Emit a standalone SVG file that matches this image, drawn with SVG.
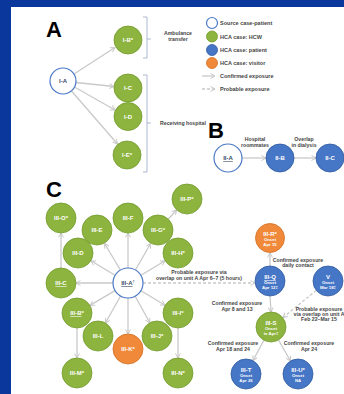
<svg xmlns="http://www.w3.org/2000/svg" width="344" height="394" viewBox="0 0 344 394">
<style>
.g{fill:#8db43e;stroke:#729b2e;stroke-width:0.8}
.b{fill:#4676c6;stroke:#2f5a9e;stroke-width:0.8}
.o{fill:#f08a3a;stroke:#d26f22;stroke-width:0.8}
.w{fill:#fff;stroke:#4a78c6;stroke-width:1.2}
.t{font-family:"Liberation Sans",Arial,sans-serif;font-weight:bold;text-anchor:middle}
.nl{font-size:6px;fill:#fff}
.nd{font-size:6px;fill:#3a4a6a}
.on{font-size:4.3px;fill:#fff}
.sm{font-size:5.2px;fill:#444}
.lg{font-family:"Liberation Sans",Arial,sans-serif;font-weight:bold;font-size:5.5px;fill:#444}
.big{font-family:"Liberation Sans",Arial,sans-serif;font-weight:bold;font-size:22px;fill:#000}
.ar{stroke:#c9c9c9;stroke-width:1.3;fill:none;marker-end:url(#ah)}
.da{stroke-dasharray:3 2}
.br{stroke:#9aa6c8;stroke-width:0.8;fill:none}
</style>
<defs>
<marker id="ah" markerUnits="userSpaceOnUse" markerWidth="7" markerHeight="7" refX="5" refY="3" orient="auto">
<path d="M0.5,0.5 L5,3 L0.5,5.5" fill="none" stroke="#c9c9c9" stroke-width="1"/>
</marker>
</defs>
<rect width="344" height="394" fill="#0a379b"/>
<rect x="11" y="7" width="333" height="387" fill="#fff"/>

<g id="labels">
<text class="big" x="46" y="37">A</text>
<text class="big" x="208" y="138">B</text>
<text class="big" x="46" y="197">C</text>
</g>

<g id="brackets">
<path class="br" d="M143,17 H147 V58 H143 M147,39 H151"/>
<path class="br" d="M143,75 H147 V172 H143 M147,123 H151"/>
<text class="t sm" x="178" y="35">Ambulance</text>
<text class="t sm" x="178" y="41">transfer</text>
<text class="t sm" x="183" y="125">Receiving hospital</text>
</g>

<g id="legend">
<circle class="w" cx="212" cy="23" r="5.5"/>
<text class="lg" x="220" y="25">Source case-patient</text>
<circle class="g" cx="212" cy="36.5" r="5.5"/>
<text class="lg" x="220" y="38.5">HCA case: HCW</text>
<circle class="b" cx="212" cy="50" r="5.5"/>
<text class="lg" x="220" y="52">HCA case: patient</text>
<circle class="o" cx="212" cy="63" r="5.5"/>
<text class="lg" x="220" y="65">HCA case: visitor</text>
<line class="ar" x1="202" y1="76" x2="215" y2="76"/>
<text class="lg" x="220" y="78">Confirmed exposure</text>
<line class="ar da" x1="202" y1="89" x2="215" y2="89"/>
<text class="lg" x="220" y="91">Probable exposure</text>
</g>

<g id="connectors">
<line class="ar" x1="74" y1="74" x2="115" y2="47.5"/>
<line class="ar" x1="76" y1="82.5" x2="114" y2="86.5"/>
<line class="ar" x1="74.5" y1="87" x2="115" y2="110"/>
<line class="ar" x1="71.5" y1="91" x2="117.5" y2="144"/>
<line class="ar" x1="242" y1="158" x2="266" y2="158"/>
<line class="ar" x1="294" y1="158" x2="316" y2="158"/>
<line class="ar" x1="128" y1="268" x2="128" y2="233"/>
<line class="ar" x1="120.4" y1="270" x2="104.6" y2="243.5"/>
<line class="ar" x1="135.4" y1="270" x2="150.6" y2="243.5"/>
<line class="ar" x1="115" y1="275.3" x2="91" y2="260.7"/>
<line class="ar" x1="141" y1="275.3" x2="165" y2="260.7"/>
<line class="ar" x1="113" y1="283" x2="76" y2="283"/>
<line class="ar" x1="115" y1="290.6" x2="90" y2="305.4"/>
<line class="ar" x1="120.6" y1="296" x2="105.4" y2="323"/>
<line class="ar" x1="128" y1="298" x2="128" y2="334"/>
<line class="ar" x1="135.2" y1="296.2" x2="149.8" y2="322.8"/>
<line class="ar" x1="141" y1="290.7" x2="165" y2="305.3"/>
<line class="ar" x1="61" y1="268" x2="61" y2="233"/>
<line class="ar" x1="168.3" y1="219" x2="176.7" y2="210"/>
<line class="ar" x1="77" y1="328" x2="77" y2="358"/>
<line class="ar" x1="178" y1="328" x2="178" y2="358"/>
<line class="ar da" x1="143" y1="283" x2="255" y2="283"/>
<line class="ar" x1="270" y1="266" x2="270" y2="253"/>
<line class="ar" x1="270" y1="296" x2="271" y2="312"/>
<line class="ar da" x1="316.3" y1="290.4" x2="283" y2="317.5"/>
<line class="ar" x1="264" y1="340" x2="253" y2="360.5"/>
<line class="ar" x1="278.5" y1="340" x2="290.5" y2="361"/>
</g>

<g id="edge-labels">
<text class="t sm" x="255" y="141">Hospital</text>
<text class="t sm" x="255" y="146.5">roommates</text>
<text class="t sm" x="304" y="141">Overlap</text>
<text class="t sm" x="304" y="146.5">in dialysis</text>
<text class="t sm" x="199" y="274">Probable exposure via</text>
<text class="t sm" x="199" y="279.5">overlap on unit A Apr 6–7 (5 hours)</text>
<text class="t sm" x="298" y="261.5">Confirmed exposure</text>
<text class="t sm" x="298" y="267">daily contact</text>
<text class="t sm" x="237" y="305">Confirmed exposure</text>
<text class="t sm" x="237" y="310.5">Apr 8 and 13</text>
<text class="t sm" x="319" y="311" font-size="5">Probable exposure</text>
<text class="t sm" x="319" y="316" font-size="5">via overlap on unit A</text>
<text class="t sm" x="319" y="321" font-size="5">Feb 22–Mar 15</text>
<text class="t sm" x="233" y="345">Confirmed exposure</text>
<text class="t sm" x="233" y="350.5">Apr 18 and 24</text>
<text class="t sm" x="309" y="345">Confirmed exposure</text>
<text class="t sm" x="309" y="350.5">Apr 24</text>
</g>

<g id="I-A"><circle class="w" cx="63" cy="81" r="13"/><text class="t nd" x="63" y="83">I-A</text></g>
<g id="I-B"><circle class="g" cx="128" cy="40" r="14"/><text class="t nl" x="128" y="42">I-B*</text></g>
<g id="I-C"><circle class="g" cx="128" cy="88" r="14"/><text class="t nl" x="128" y="90">I-C</text></g>
<g id="I-D"><circle class="g" cx="128" cy="116.5" r="14"/><text class="t nl" x="128" y="118.5">I-D</text></g>
<g id="I-E"><circle class="g" cx="127" cy="155" r="14"/><text class="t nl" x="127" y="157">I-E*</text></g>

<g id="II-A"><circle class="w" cx="228" cy="158" r="14"/><text class="t nd" x="228" y="160" text-decoration="underline">II-A</text></g>
<g id="II-B"><circle class="b" cx="280" cy="158" r="14"/><text class="t nl" x="280" y="160">II-B</text></g>
<g id="II-C"><circle class="b" cx="330" cy="158" r="14"/><text class="t nl" x="330" y="160">II-C</text></g>

<g id="III-A"><circle class="w" cx="128" cy="283" r="15"/><text class="t nd" x="128" y="285"><tspan text-decoration="underline">III-A</tspan><tspan font-size="4" dy="-2">†</tspan></text></g>
<g id="III-O"><circle class="g" cx="61" cy="218" r="15"/><text class="t nl" x="61" y="220">III-O*</text></g>
<g id="III-E"><circle class="g" cx="97" cy="230" r="15"/><text class="t nl" x="97" y="232">III-E</text></g>
<g id="III-F"><circle class="g" cx="128" cy="218" r="15"/><text class="t nl" x="128" y="220">III-F</text></g>
<g id="III-G"><circle class="g" cx="158" cy="230" r="15"/><text class="t nl" x="158" y="232">III-G*</text></g>
<g id="III-P"><circle class="g" cx="187" cy="199" r="15"/><text class="t nl" x="187" y="201">III-P*</text></g>
<g id="III-D"><circle class="g" cx="78" cy="253" r="15"/><text class="t nl" x="78" y="255">III-D</text></g>
<g id="III-H"><circle class="g" cx="178" cy="253" r="15"/><text class="t nl" x="178" y="255">III-H*</text></g>
<g id="III-C"><circle class="g" cx="61" cy="283" r="15"/><text class="t nl" x="61" y="285" text-decoration="underline">III-C</text></g>
<g id="III-B"><circle class="g" cx="77" cy="313" r="15"/><text class="t nl" x="77" y="315"><tspan text-decoration="underline">III-B</tspan>*</text></g>
<g id="III-L"><circle class="g" cx="98" cy="336" r="15"/><text class="t nl" x="98" y="338">III-L</text></g>
<g id="III-K"><circle class="o" cx="128" cy="349" r="15"/><text class="t nl" x="128" y="351">III-K*</text></g>
<g id="III-J"><circle class="g" cx="157" cy="336" r="15"/><text class="t nl" x="157" y="338">III-J*</text></g>
<g id="III-I"><circle class="g" cx="178" cy="313" r="15"/><text class="t nl" x="178" y="315">III-I*</text></g>
<g id="III-M"><circle class="g" cx="77" cy="373" r="15"/><text class="t nl" x="77" y="375">III-M*</text></g>
<g id="III-N"><circle class="g" cx="178" cy="373" r="15"/><text class="t nl" x="178" y="375">III-N*</text></g>

<g id="III-R"><circle class="o" cx="270" cy="238" r="14.5"/><text class="t nl" x="270" y="236">III-R*</text><text class="t on" x="270" y="241">Onset</text><text class="t on" x="270" y="245.5">Apr 15</text></g>
<g id="III-Q"><circle class="b" cx="270" cy="281" r="15"/><text class="t nl" x="270" y="279" text-decoration="underline">III-Q</text><text class="t on" x="270" y="284">Onset</text><text class="t on" x="270" y="288.5">Apr 12‡</text></g>
<g id="V"><circle class="b" cx="328" cy="281" r="15"/><text class="t nl" x="328" y="279">V</text><text class="t on" x="328" y="284">Onset</text><text class="t on" x="328" y="288.5">Mar 18‡</text></g>
<g id="III-S"><circle class="g" cx="271" cy="327" r="15"/><text class="t nl" x="271" y="325">III-S</text><text class="t on" x="271" y="330">Onset</text><text class="t on" x="271" y="334.5">in Apr‡</text></g>
<g id="III-T"><circle class="b" cx="246" cy="374" r="15"/><text class="t nl" x="246" y="372">III-T</text><text class="t on" x="246" y="377">Onset</text><text class="t on" x="246" y="381.5">Apr 26</text></g>
<g id="III-U"><circle class="b" cx="298" cy="374" r="15"/><text class="t nl" x="298" y="372">III-U*</text><text class="t on" x="298" y="377">Onset</text><text class="t on" x="298" y="381.5">NA</text></g>
</svg>
